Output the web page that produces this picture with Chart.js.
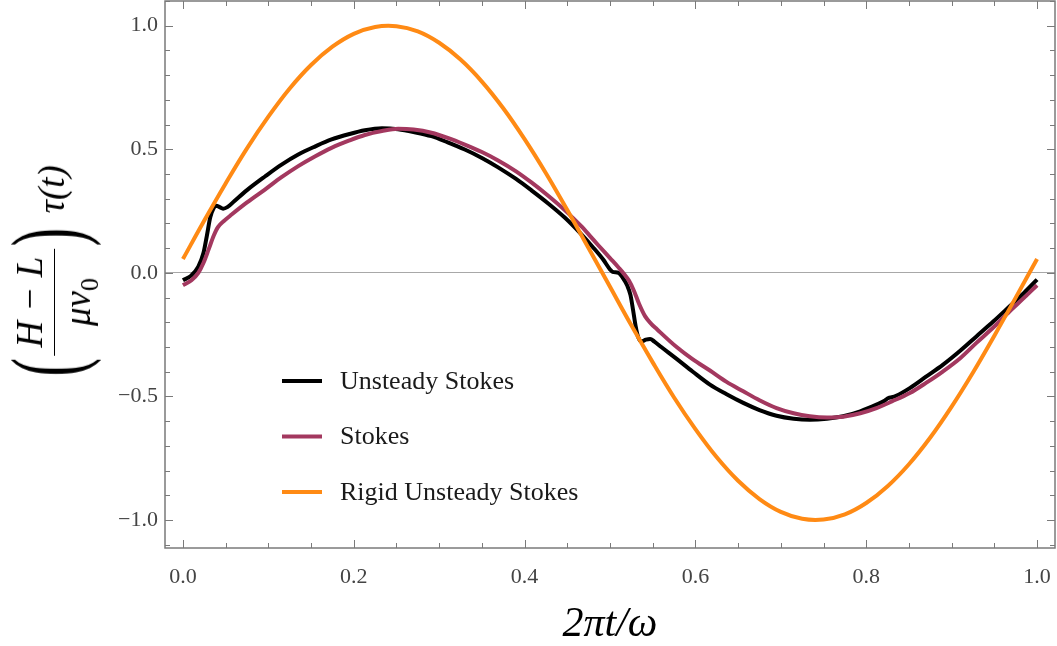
<!DOCTYPE html>
<html>
<head>
<meta charset="utf-8">
<script src="https://cdn.jsdelivr.net/npm/chart.js@4"></script>
<style>
  body { margin: 0; background: #fff; }
  #wrap { position: relative; width: 1057px; height: 646px; }
  #ylabel {
    position: absolute; left: 57px; top: 272px;
    transform: translate(-50%, -50%) rotate(-90deg);
    display: flex; align-items: center; white-space: nowrap;
    font-family: 'Liberation Serif', serif; font-style: italic; font-size: 37px; color: #000;
  }
  #ylabel .paren { font-style: normal; font-size: 100px; line-height: 1; display: inline-block; transform: translateY(-10px) scale(0.55, 1); margin: 0 -5px; }
  #ylabel .frac { display: inline-flex; flex-direction: column; align-items: center; line-height: 1.15; }
  #ylabel .num { border-bottom: 1.5px solid #000; padding: 0 8px 2px; }
  #ylabel .den { padding-top: 2px; }
  #ylabel .den sub { font-style: normal; font-size: 26px; }
  #ylabel .tau { margin-left: 12px; position: relative; top: -6px; }
</style>
</head>
<body>
<div id="wrap">
  <canvas id="shear-chart" width="1057" height="646"></canvas>
  <div id="ylabel"><span class="paren">(</span><span class="frac"><span class="num">H − L</span><span class="den">μv<sub>0</sub></span></span><span class="paren">)</span><span class="tau">τ(t)</span></div>
</div>
<script>
// stress over one period, x = 2πt/ω
const unsteadyX = [0.000, 0.010, 0.018, 0.024, 0.028, 0.032, 0.036, 0.039, 0.043, 0.047, 0.052, 0.060, 0.075, 0.096, 0.115, 0.135, 0.155, 0.174, 0.195, 0.213, 0.233, 0.252, 0.270, 0.291, 0.310, 0.330, 0.350, 0.369, 0.390, 0.408, 0.428, 0.447, 0.466, 0.480, 0.492, 0.500, 0.503, 0.510, 0.515, 0.520, 0.524, 0.527, 0.530, 0.533, 0.537, 0.542, 0.547, 0.552, 0.560, 0.578, 0.597, 0.617, 0.636, 0.656, 0.675, 0.695, 0.715, 0.734, 0.754, 0.773, 0.793, 0.812, 0.822, 0.826, 0.830, 0.835, 0.851, 0.870, 0.890, 0.910, 0.929, 0.949, 0.968, 0.985, 1.000];
const unsteadyY = [-0.030, -0.010, 0.025, 0.080, 0.150, 0.225, 0.262, 0.272, 0.266, 0.260, 0.266, 0.290, 0.335, 0.390, 0.437, 0.479, 0.512, 0.540, 0.562, 0.577, 0.585, 0.581, 0.570, 0.553, 0.528, 0.499, 0.465, 0.427, 0.380, 0.334, 0.280, 0.224, 0.158, 0.104, 0.054, 0.014, 0.004, 0.000, -0.020, -0.050, -0.090, -0.150, -0.215, -0.260, -0.277, -0.270, -0.267, -0.278, -0.300, -0.348, -0.400, -0.452, -0.490, -0.526, -0.555, -0.578, -0.590, -0.594, -0.590, -0.580, -0.560, -0.533, -0.516, -0.506, -0.503, -0.497, -0.466, -0.420, -0.371, -0.315, -0.257, -0.196, -0.135, -0.080, -0.027];

const stokesX = [0.000, 0.010, 0.018, 0.024, 0.030, 0.036, 0.041, 0.048, 0.057, 0.075, 0.096, 0.115, 0.135, 0.155, 0.174, 0.195, 0.213, 0.233, 0.252, 0.270, 0.291, 0.310, 0.330, 0.350, 0.369, 0.390, 0.408, 0.428, 0.447, 0.466, 0.477, 0.486, 0.500, 0.510, 0.516, 0.522, 0.528, 0.534, 0.541, 0.548, 0.555, 0.578, 0.597, 0.617, 0.636, 0.656, 0.675, 0.695, 0.715, 0.734, 0.754, 0.773, 0.793, 0.812, 0.830, 0.851, 0.870, 0.890, 0.910, 0.929, 0.949, 0.968, 0.985, 1.000];
const stokesY = [-0.050, -0.030, 0.000, 0.040, 0.094, 0.150, 0.185, 0.210, 0.236, 0.285, 0.337, 0.386, 0.432, 0.472, 0.506, 0.536, 0.558, 0.574, 0.583, 0.580, 0.567, 0.546, 0.519, 0.489, 0.455, 0.411, 0.366, 0.311, 0.254, 0.190, 0.148, 0.113, 0.060, 0.022, -0.002, -0.030, -0.072, -0.125, -0.175, -0.205, -0.228, -0.300, -0.350, -0.395, -0.440, -0.479, -0.515, -0.547, -0.568, -0.580, -0.585, -0.582, -0.568, -0.547, -0.520, -0.486, -0.445, -0.398, -0.345, -0.283, -0.220, -0.155, -0.100, -0.050];

const rigidX = [0.000, 0.025, 0.050, 0.075, 0.100, 0.125, 0.150, 0.175, 0.200, 0.225, 0.250, 0.275, 0.300, 0.325, 0.350, 0.375, 0.400, 0.425, 0.450, 0.475, 0.500, 0.525, 0.550, 0.575, 0.600, 0.625, 0.650, 0.675, 0.700, 0.725, 0.750, 0.775, 0.800, 0.825, 0.850, 0.875, 0.900, 0.925, 0.950, 0.975, 1.000];
const rigidY = [0.056, 0.212, 0.362, 0.504, 0.632, 0.746, 0.841, 0.915, 0.967, 0.995, 0.998, 0.977, 0.931, 0.863, 0.774, 0.666, 0.541, 0.403, 0.254, 0.100, -0.056, -0.212, -0.362, -0.504, -0.632, -0.746, -0.841, -0.915, -0.967, -0.995, -0.998, -0.977, -0.931, -0.863, -0.774, -0.666, -0.541, -0.403, -0.254, -0.100, 0.056];

const seriesNames = ['Unsteady Stokes', 'Stokes', 'Rigid Unsteady Stokes'];
const seriesColors = ['#000000', '#a3385f', '#ff8a14'];

const xTicks = [0.0, 0.2, 0.4, 0.6, 0.8, 1.0];
const yTicks = [-1.0, -0.5, 0.0, 0.5, 1.0];

const SERIF = "'Liberation Serif', serif";

function toPoints(xs, ys) {
  return xs.map((x, i) => ({ x: x, y: ys[i] }));
}

function fmtTick(v) {
  const s = Math.abs(v).toFixed(1);
  return v < 0 ? '\u2212' + s : s;
}

// drop the extra room Chart.js keeps for the outermost tick labels
function noLabelPadding(s) {
  s.paddingTop = 0;
  s.paddingBottom = 0;
  s.paddingLeft = 0;
  s.paddingRight = 0;
}

// Box frame with inward ticks on all four sides
const framePlugin = {
  id: 'frame',
  afterDatasetsDraw(chart) {
    const { ctx, chartArea: a, scales: { x, y } } = chart;
    ctx.save();
    ctx.strokeStyle = '#7a7a7a';
    ctx.lineWidth = 1.5;
    ctx.strokeRect(a.left, a.top, a.right - a.left, a.bottom - a.top);
    ctx.lineWidth = 1;
    ctx.beginPath();
    for (let k = 0; k <= 20; k++) {
      const v = k * 0.05;
      const px = Math.round(x.getPixelForValue(v)) + 0.5;
      const len = k % 4 === 0 ? 8 : 5;
      ctx.moveTo(px, a.bottom); ctx.lineTo(px, a.bottom - len);
      ctx.moveTo(px, a.top); ctx.lineTo(px, a.top + len);
    }
    for (let k = -11; k <= 11; k++) {
      const v = k * 0.1;
      const py = Math.round(y.getPixelForValue(v)) + 0.5;
      if (py < a.top || py > a.bottom) continue;
      const len = k % 5 === 0 ? 8 : 5;
      ctx.moveTo(a.left, py); ctx.lineTo(a.left + len, py);
      ctx.moveTo(a.right, py); ctx.lineTo(a.right - len, py);
    }
    ctx.stroke();
    ctx.restore();
  }
};

// Legend drawn inside the plot area, lower left
const insideLegend = {
  id: 'insideLegend',
  afterDraw(chart) {
    const { ctx } = chart;
    ctx.save();
    ctx.font = '26px ' + SERIF;
    ctx.textBaseline = 'middle';
    chart.data.datasets.forEach((ds, i) => {
      const yy = 381 + i * 55.5;
      ctx.strokeStyle = ds.borderColor;
      ctx.lineWidth = 4;
      ctx.beginPath();
      ctx.moveTo(282, yy);
      ctx.lineTo(322, yy);
      ctx.stroke();
      ctx.fillStyle = '#1a1a1a';
      ctx.fillText(ds.label, 340, yy + 1);
    });
    ctx.restore();
  }
};

function makeDataset(i, xs, ys, order, smooth) {
  const ds = {
    label: seriesNames[i],
    data: toPoints(xs, ys),
    borderColor: seriesColors[i],
    backgroundColor: seriesColors[i],
    borderWidth: 4,
    pointRadius: 0,
    fill: false,
    order: order
  };
  if (smooth) ds.tension = 0.4;
  else ds.cubicInterpolationMode = 'monotone';
  return ds;
}

const ctx = document.getElementById('shear-chart');
new Chart(ctx, {
  type: 'line',
  data: {
    datasets: [
      makeDataset(0, unsteadyX, unsteadyY, 3, false),
      makeDataset(1, stokesX, stokesY, 2, false),
      makeDataset(2, rigidX, rigidY, 1, true)
    ]
  },
  options: {
    responsive: false,
    animation: false,
    devicePixelRatio: 1,
    layout: { padding: { left: 0, right: 2, top: 1, bottom: 0 } },
    plugins: { legend: { display: false }, tooltip: { enabled: false } },
    scales: {
      x: {
        type: 'linear',
        min: -0.021,
        max: 1.021,
        afterBuildTicks: s => { s.ticks = xTicks.map(v => ({ value: v })); },
        afterFit: s => { s.height = 98; noLabelPadding(s); },
        grid: { display: false },
        border: { display: false },
        ticks: {
          color: '#444',
          padding: 8,
          maxRotation: 0,
          font: { family: SERIF, size: 22 },
          callback: v => fmtTick(v)
        },
        title: {
          display: true,
          text: '2πt/ω',
          color: '#000',
          padding: { top: 0, bottom: 0 },
          font: { family: SERIF, size: 42, style: 'italic', lineHeight: 1 }
        }
      },
      y: {
        type: 'linear',
        min: -1.113,
        max: 1.10,
        afterBuildTicks: s => { s.ticks = yTicks.map(v => ({ value: v })); },
        afterFit: s => { s.width = 165; noLabelPadding(s); },
        grid: {
          drawTicks: false,
          lineWidth: 1,
          color: c => (c.tick && c.tick.value === 0 ? '#a8a8a8' : 'rgba(0,0,0,0)')
        },
        border: { display: false },
        ticks: {
          color: '#444',
          padding: 7,
          font: { family: SERIF, size: 22 },
          callback: v => fmtTick(v)
        }
      }
    }
  },
  plugins: [framePlugin, insideLegend]
});
</script>
</body>
</html>
